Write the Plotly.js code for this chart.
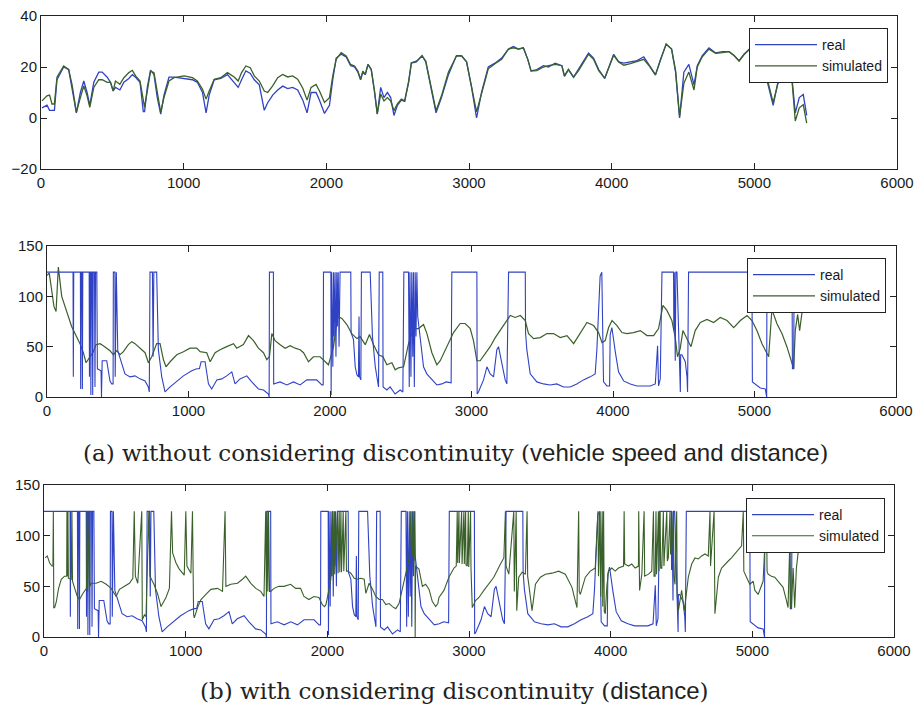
<!DOCTYPE html>
<html><head><meta charset="utf-8">
<script src="https://cdn.plot.ly/plotly-3.0.1.min.js"></script>
<style>html,body{margin:0;padding:0;background:#fff}#c{width:919px;height:709px}</style>
</head><body><div id="c"></div>
<script>
// ---------- Panel 1: vehicle speed ----------
const speedX = [7,42,60,77,94,112,159,194,218,248,276,300,323,342,370,405,429,464,487,506,522,553,581,616,640,663,694,717,726,745,768,792,815,839,862,897,933,1003,1061,1096,1132,1157,1179,1214,1260,1307,1354,1382,1406,1436,1467,1495,1530,1565,1589,1624,1659,1694,1729,1764,1799,1835,1865,1893,1928,1952,1987,2022,2045,2069,2104,2139,2170,2198,2221,2240,2256,2273,2292,2315,2338,2357,2381,2404,2428,2451,2474,2498,2526,2549,2577,2596,2631,2671,2697,2734,2769,2807,2856,2912,2948,2983,3018,3053,3088,3135,3182,3229,3276,3311,3346,3381,3412,3435,3475,3522,3557,3604,3651,3669,3697,3733,3768,3803,3838,3873,3909,3951,3979,4014,4049,4085,4131,4178,4225,4260,4307,4342,4382,4420,4448,4476,4506,4541,4577,4600,4635,4682,4729,4776,4823,4858,4893,4928,4964,5000,5030,5057,5092,5132,5163,5193,5221,5263,5287,5315,5343,5367];
const speedSim = [6.7,8.7,9,5.5,5.5,16,20.4,19,13,2.2,8,12.6,8.7,4.2,12,15,15,14,14,10.6,14.5,13.2,15.8,17.8,18.7,16.5,14.5,6.7,4.2,10.6,18.4,17.8,9.4,2.2,8,14.5,15.8,16.5,15.8,14.5,11.3,7.4,10.6,15.2,15.8,17.8,16.1,14.5,17.8,20.4,19.7,16.5,14.5,10.6,10,12.6,15.8,17.1,16.1,16.5,15.2,11.7,7,12,13.2,10.6,6.1,8,16.5,23,25.6,24.3,21,20.4,18.4,15.2,18.4,17.1,21,19,10.6,1.6,9.4,6.7,8,6.7,2.9,5.5,7.4,6.7,14.5,21.7,22.3,24.3,22.3,12,2.9,8.7,18,24.3,24.3,22,12,2.4,9.6,19.3,21.3,23,27,27.5,27,27.5,23,18.4,18.6,20,20.5,21,20.5,16.3,19,16,18.6,22,25,23,18.6,15.6,19.5,24.6,22,20.7,21.3,22,23,20.7,16.8,22.6,29,27,18.6,0.6,13.6,18,11,20,24,27,25.4,25.6,26,24.5,22.3,24.9,26.8,26,22,17,15,6,13,18,17.4,15.4,-1.2,4,5.2,-2];
const speedReal = [4,5,3,3,3,15,20,19,12,2,10,14.5,10,5,14,18,18,16,14,10.6,12,11,14,15.5,17,16,14,2.5,2.5,12,18.8,17,8,1.5,9,16,16,15.5,15,14,10,2,9,15,15.5,17,14,12,15,18.5,17.5,15,13,3,6,9,11,12.5,11.5,12,11,7,2,10,10,7,1.8,5,15,23.5,25,24,20.5,20,18,15,18,17,21,19,10,1.5,12,8,10,8,1,5,7,6.5,14,21.5,22,24.5,22,11,2,8,17,24.5,24.5,22,12,0,10,20,21.5,23.5,27,28,27,27.5,23,18.5,19,20.5,20,21.5,20.5,16.5,19,16,19,22.5,25.5,23.5,19,15.5,20,25,22,21.5,22,22.5,24,21,17,23,29,27,18,0,18,21,13,20.5,24.5,27.5,25.5,26,26,24.5,22.5,25,27,26.5,22,17.5,14,5,13.5,18.5,17.5,16,2,8,9.2,1];

// ---------- Real distance (same measured signal in panels 2 and 3) ----------
const distRealX = [0,184,186,189,236,238,242,248,250,253,298,300,303,308,310,314,320,323,327,336,339,343,352,356,382,385,390,422,434,445,457,467,469,480,482,486,490,500,528,551,587,622,657,693,716,723,728,745,750,755,775,780,787,811,834,870,917,964,1023,1058,1077,1089,1117,1129,1141,1164,1200,1235,1270,1306,1329,1364,1412,1447,1494,1530,1565,1570,1572,1600,1602,1647,1695,1742,1789,1836,1906,1942,1952,1954,2006,2008,2012,2020,2025,2030,2036,2042,2048,2052,2058,2064,2071,2147,2149,2166,2178,2190,2201,2205,2209,2218,2222,2284,2300,2320,2343,2348,2373,2375,2402,2425,2460,2496,2515,2522,2555,2560,2565,2572,2578,2585,2590,2596,2602,2608,2614,2620,2625,2640,2661,2684,2720,2755,2790,2821,2856,2861,3038,3040,3049,3085,3109,3132,3156,3179,3191,3215,3238,3250,3262,3380,3382,3391,3415,3462,3509,3556,3603,3650,3697,3744,3791,3839,3874,3886,3909,3921,3925,3933,3957,3976,3980,3992,4016,4039,4075,4122,4169,4216,4263,4299,4310,4315,4322,4334,4346,4428,4430,4433,4440,4444,4452,4476,4478,4487,4511,4523,4527,4534,4982,4985,5041,5076,5086,5088,5265,5268,5277,5280,5340];
const distReal = [124,124,20,124,124,8,124,124,8,124,124,20,124,124,2,124,124,2,124,124,10,124,124,28,26,0,36,36,23,16,13,13,124,124,20,124,124,46,33,23,20,21,18,16,10,5,124,124,40,124,124,71,47,20,5,10,16,21,26,28,28,35,35,26,13,8,17,18,21,25,13,18,21,15,8,7,3,0,124,124,13,15,12,15,12,17,17,12,12,124,124,2,124,30,124,60,124,40,124,70,124,50,124,124,64,57,30,22,20,80,20,17,124,124,60,30,10,124,124,10,7,10,3,7,5,124,124,10,124,20,124,40,124,10,124,60,124,80,74,50,30,23,17,12,13,15,14,124,124,3,5,17,30,23,20,47,50,33,17,13,124,124,64,47,23,15,13,12,13,10,10,13,17,20,23,47,120,124,90,15,11,11,62,69,45,25,16,13,11,11,11,13,45,51,11,18,124,124,66,124,36,124,124,5,42,42,35,20,5,124,124,15,9,8,0,124,124,28,28,124,124];

// ---------- Panel 2: simulated distance, without discontinuity ----------
const distSimX = [0,16,33,49,64,80,104,139,174,198,233,257,276,304,328,346,375,398,422,445,469,493,516,540,575,599,622,658,693,717,740,775,799,823,841,870,917,964,1011,1058,1082,1129,1153,1188,1223,1270,1318,1341,1388,1424,1459,1494,1530,1553,1572,1589,1612,1648,1683,1718,1754,1789,1813,1848,1883,1930,1966,1989,2025,2053,2084,2119,2154,2190,2213,2249,2279,2308,2343,2374,2402,2437,2461,2484,2520,2555,2590,2626,2661,2685,2720,2755,2779,2826,2873,2920,2955,2991,3014,3038,3061,3097,3132,3168,3203,3238,3274,3309,3345,3380,3403,3439,3486,3533,3580,3627,3675,3722,3769,3816,3863,3898,3922,3945,3969,3993,4028,4063,4098,4145,4193,4240,4287,4322,4353,4381,4416,4440,4456,4475,4494,4518,4551,4581,4617,4664,4711,4758,4806,4853,4900,4947,4982,5017,5053,5100,5123,5158,5194,5229,5265,5277,5288,5305,5319,5335,5347];
const distSim = [121,123,106,90,85,129,100,86,70,63,53,44,34,40,45,52,53,51,48.5,46,42,46,42,45,52,55,53,48.5,44,34,40,53,53,37,30,35,42,45,48.5,48.5,45,44,35,44,47,50,53,48.5,52,61,56,48.5,44,37,40,63,56,52,48.5,51,48.5,47,44,35,40,40,35,32,50,80,78,72,63,58,60,52,62,52,42,40,32,34,27,29,30,53,68,68,72,63,44,32,36,50,64,73,73,68,56,36,36,43,50,59,66,73,81,79,81,76,63,58,59,63,63,59,61,53,64,74,71,64,54,56,69,76,71,64,63,64,66,61,61,68,91,86,76,59,40,48,66,59,50,66,74,77,74,79,76,69,76,81,76,66,53,40,87,73,63,50,33,28,66,82,66,86,96];

// ---------- Panel 3: simulated distance, with discontinuity ----------
const distSim2X = [9,23,40,56,63,66,69,75,87,103,122,145,160,162,165,169,172,192,197,201,216,235,251,274,300,305,308,320,324,333,368,404,439,474,509,533,568,603,627,637,645,662,690,694,709,720,740,748,779,803,826,861,885,900,908,932,955,990,1001,1009,1037,1048,1056,1061,1084,1108,1143,1178,1225,1260,1278,1284,1319,1366,1401,1424,1460,1495,1530,1553,1565,1570,1575,1580,1585,1592,1600,1624,1659,1694,1741,1776,1811,1835,1870,1905,1941,1964,1981,1990,2002,2025,2037,2040,2049,2052,2072,2076,2084,2088,2096,2100,2112,2116,2131,2135,2143,2166,2190,2213,2236,2260,2272,2295,2319,2342,2366,2389,2413,2436,2460,2483,2506,2530,2553,2577,2590,2594,2600,2606,2610,2618,2620,2623,2647,2671,2694,2718,2741,2765,2780,2788,2823,2858,2894,2910,2917,2920,2929,2932,2948,2951,2964,2967,2976,2979,2988,2995,2998,3011,3014,3023,3046,3070,3105,3140,3175,3222,3246,3257,3262,3281,3316,3320,3333,3337,3351,3375,3398,3410,3414,3422,3445,3469,3504,3539,3586,3633,3680,3727,3762,3774,3778,3786,3821,3856,3891,3910,3914,3926,3930,3940,3944,3950,3955,3962,3973,3985,4008,4032,4055,4091,4095,4099,4126,4149,4173,4196,4198,4204,4220,4236,4240,4267,4290,4302,4306,4314,4320,4324,4337,4341,4349,4353,4361,4372,4376,4396,4400,4407,4419,4423,4431,4443,4447,4454,4466,4470,4478,4501,4520,4548,4572,4595,4619,4642,4666,4689,4701,4705,4730,4736,4760,4783,4806,4830,4853,4877,4900,4924,4936,4940,4959,4982,5006,5018,5041,5076,5100,5104,5111,5135,5158,5182,5217,5241,5252,5264,5270,5276,5288,5299,5311,5323];
const distSim2 = [78,80,73,70,70,124,29,29,35,48,57,60,60,124,60,124,58,57,124,55,48,40,37,43,48,124,45,124,50,53,53,55,52,48,40,47,50,53,58,124,60,53,124,17,22,20,124,60,51,42,30,39,48,124,83,73,67,61,124,70,63,124,22,19,29,37,42,47,48,45,124,50,52,53,57,60,53,48,45,40,124,40,124,45,124,45,45,48,50,50,52,48,48,40,37,40,39,32,30,32,40,57,124,60,124,62,124,63,124,64,124,64,124,65,124,65,65,63,58,57,58,57,43,53,47,40,37,37,32,33,30,28,33,47,60,77,124,78,80,124,75,124,0,70,67,50,52,47,35,30,33,39,46,59,68,70,124,73,124,73,124,72,124,72,124,71,70,124,69,124,68,29,36,39,46,52,59,72,78,124,70,62,124,45,124,26,59,64,62,124,60,52,26,52,59,62,63,65,62,49,29,124,45,42,59,65,68,124,60,124,40,124,30,124,25,23,50,65,68,65,68,70,124,72,70,72,68,70,124,46,62,124,60,62,65,124,60,60,124,62,124,65,124,68,68,124,70,124,75,78,124,82,82,124,60,52,124,40,26,46,26,59,72,78,77,80,82,80,124,70,124,23,59,68,72,75,78,82,85,90,124,65,59,52,55,46,42,55,124,65,62,60,59,55,49,36,29,91,29,29,68,29,68,83];

const BLUE = 'rgb(48,66,196)';
const GREEN = 'rgb(58,96,42)';
const axisFont = {family: 'Liberation Sans, Arial, sans-serif', size: 15, color: '#1a1a1a'};

function xax(dom, anchor) {
  return {domain: dom, anchor: anchor, range: [0, 6000], tickvals: [0,1000,2000,3000,4000,5000,6000],
    ticks: 'inside', ticklen: 6, tickcolor: '#222', showline: true, linecolor: '#222', linewidth: 1,
    mirror: 'ticks', showgrid: false, zeroline: false, tickfont: axisFont, fixedrange: true};
}
function yax(dom, anchor, rng, tv) {
  return {domain: dom, anchor: anchor, range: rng, tickvals: tv,
    ticks: 'inside', ticklen: 6, tickcolor: '#222', showline: true, linecolor: '#222', linewidth: 1,
    mirror: 'ticks', showgrid: false, zeroline: false, tickfont: axisFont, fixedrange: true};
}
function leg(x, y) {
  return {x: x, y: y, xanchor: 'left', yanchor: 'top', bgcolor: '#fff', bordercolor: '#222', borderwidth: 1,
    font: {family: 'Liberation Sans, Arial, sans-serif', size: 14, color: '#1a1a1a'}, tracegroupgap: 0,
    itemwidth: 62, traceorder: 'normal'};
}

const traces = [
  {x: speedX, y: speedReal, name: 'real', type: 'scatter', mode: 'lines', line: {color: BLUE, width: 1.3}, xaxis: 'x', yaxis: 'y', legend: 'legend'},
  {x: speedX, y: speedSim, name: 'simulated', type: 'scatter', mode: 'lines', line: {color: GREEN, width: 1.3}, xaxis: 'x', yaxis: 'y', legend: 'legend'},
  {x: distSimX, y: distSim, name: 'simulated', type: 'scatter', mode: 'lines', line: {color: GREEN, width: 1.2}, xaxis: 'x2', yaxis: 'y2', legend: 'legend2', legendrank: 2},
  {x: distRealX, y: distReal, name: 'real', type: 'scatter', mode: 'lines', line: {color: BLUE, width: 1.1}, xaxis: 'x2', yaxis: 'y2', legend: 'legend2', legendrank: 1},
  {x: distRealX, y: distReal, name: 'real', type: 'scatter', mode: 'lines', line: {color: BLUE, width: 1.1}, xaxis: 'x3', yaxis: 'y3', legend: 'legend3'},
  {x: distSim2X, y: distSim2, name: 'simulated', type: 'scatter', mode: 'lines', line: {color: GREEN, width: 1.1}, xaxis: 'x3', yaxis: 'y3', legend: 'legend3'}
];

const SERIF = 'DejaVu Serif, Liberation Serif, serif';
const SANS = 'Liberation Sans, Arial, sans-serif';
const layout = {
  width: 919, height: 709, margin: {l: 0, r: 0, t: 0, b: 0}, paper_bgcolor: '#fff', plot_bgcolor: '#fff',
  font: {family: SANS, color: '#1a1a1a'},
  showlegend: true,
  xaxis: xax([41/919, 897/919], 'y'),
  yaxis: yax([1-169/709, 1-16/709], 'x', [-20, 40], [-20, 0, 20, 40]),
  xaxis2: xax([47/919, 896/919], 'y2'),
  yaxis2: yax([1-397/709, 1-246/709], 'x2', [0, 150], [0, 50, 100, 150]),
  xaxis3: xax([44/919, 894/919], 'y3'),
  yaxis3: yax([1-637/709, 1-485/709], 'x3', [0, 150], [0, 50, 100, 150]),
  legend: leg(749/919, 1-28/709),
  legend2: leg(747/919, 1-258/709),
  legend3: leg(746/919, 1-498/709),
  annotations: [
    {xref: 'paper', yref: 'paper', x: 456/919, y: 1-452/709, xanchor: 'center', yanchor: 'middle', showarrow: false,
     font: {family: SERIF, size: 23, color: '#222'},
     text: '(a) without considering discontinuity (<span style="font-family:Liberation Sans, Arial, sans-serif;font-size:24px">vehicle speed and distance</span>)'},
    {xref: 'paper', yref: 'paper', x: 454/919, y: 1-690/709, xanchor: 'center', yanchor: 'middle', showarrow: false,
     font: {family: SERIF, size: 23, color: '#222'},
     text: '(b) with considering discontinuity (<span style="font-family:Liberation Sans, Arial, sans-serif;font-size:24px">distance</span>)'}
  ]
};

Plotly.newPlot('c', traces, layout, {displayModeBar: false, staticPlot: true});
</script>
</body></html>
